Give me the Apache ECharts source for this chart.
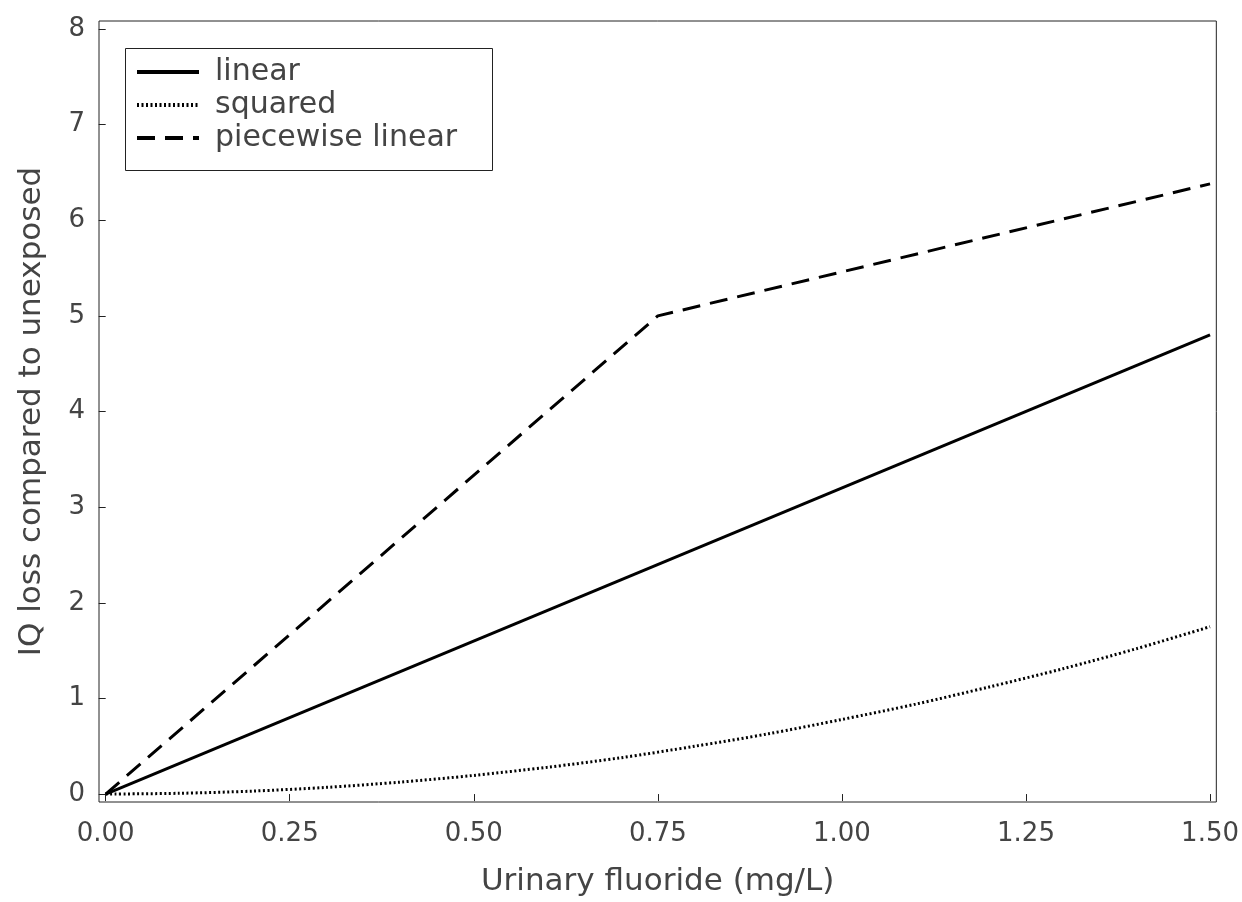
<!DOCTYPE html>
<html>
<head>
<meta charset="utf-8">
<script src="https://cdn.jsdelivr.net/npm/echarts@6/dist/echarts.min.js"></script>
<style>html,body{margin:0;padding:0;background:#fff;}#c{width:1242px;height:902px;}</style>
</head>
<body>
<div id="c"></div>
<script>
var xTicks = [0, 0.25, 0.5, 0.75, 1.0, 1.25, 1.5];
var yTicks = [0, 1, 2, 3, 4, 5, 6, 7, 8];
var seriesNames = ['linear', 'squared', 'piecewise linear'];
var xLinear = [0, 1.5];
var yLinear = [0, 4.8];
var xSquared = [0, 0.1, 0.2, 0.3, 0.4, 0.5, 0.6, 0.7, 0.8, 0.9, 1.0, 1.1, 1.2, 1.3, 1.4, 1.5];
var ySquared = [0, 0.008, 0.031, 0.07, 0.125, 0.195, 0.28, 0.38, 0.5, 0.63, 0.78, 0.94, 1.12, 1.31, 1.52, 1.75];
var xPiece = [0, 0.75, 1.5];
var yPiece = [0, 5.0, 6.38];

function pairs(xs, ys) { return xs.map(function (x, i) { return [x, ys[i]]; }); }

var FONT = '"DejaVu Sans", sans-serif';
var TXT = '#444';
var chart = echarts.init(document.getElementById('c'), null, {renderer: 'canvas'});
chart.setOption({
  backgroundColor: '#fff',
  animation: false,
  grid: {left: 99, right: 22, top: 21, bottom: 97, show: true, borderColor: '#222', borderWidth: 1, backgroundColor: 'transparent'},
  xAxis: {
    type: 'value', min: -0.00907, max: 1.5085,
    name: 'Urinary fluoride (mg/L)', nameLocation: 'middle', nameGap: 64,
    nameTextStyle: {fontFamily: FONT, fontSize: 31, color: TXT},
    axisLine: {show: false},
    splitLine: {show: false},
    axisTick: {show: true, length: 7, customValues: xTicks, lineStyle: {color: '#222', width: 1}},
    axisLabel: {customValues: xTicks, margin: 19, fontFamily: FONT, fontSize: 26, color: TXT,
      formatter: function (v) { return v.toFixed(2); }}
  },
  yAxis: {
    type: 'value', min: -0.083, max: 8.083,
    name: 'IQ loss compared to unexposed', nameLocation: 'middle', nameGap: 52,
    nameTextStyle: {fontFamily: FONT, fontSize: 31, color: TXT},
    axisLine: {show: false},
    splitLine: {show: false},
    axisTick: {show: true, length: 7, customValues: yTicks, lineStyle: {color: '#222', width: 1}},
    axisLabel: {customValues: yTicks, margin: 14, fontFamily: FONT, fontSize: 26, color: TXT}
  },
  legend: {
    orient: 'vertical', left: 123, top: 46,
    padding: [11, 12, 14, 12],
    itemWidth: 62, itemHeight: 14, itemGap: 3,
    itemStyle: {color: 'rgba(0,0,0,0)', borderWidth: 0, opacity: 0},
    lineStyle: {width: 4, color: '#000'},
    textStyle: {fontFamily: FONT, fontSize: 30, lineHeight: 30, color: TXT, padding: [0, 0, 0, 11]},
    data: seriesNames
  },
  graphic: [{
    type: 'rect', left: 123, top: 46, z: 100, silent: true,
    shape: {width: 367, height: 122},
    style: {fill: 'none', stroke: '#222', lineWidth: 1}
  }],
  series: [
    {name: seriesNames[0], type: 'line', data: pairs(xLinear, yLinear), symbol: 'none', showSymbol: false,
      lineStyle: {color: '#000', width: 3, type: 'solid'}, itemStyle: {color: '#000'}},
    {name: seriesNames[1], type: 'line', data: pairs(xSquared, ySquared), symbol: 'none', showSymbol: false, smooth: 0.3,
      lineStyle: {color: '#000', width: 3, type: [2, 2.5]}, itemStyle: {color: '#000'}},
    {name: seriesNames[2], type: 'line', data: pairs(xPiece, yPiece), symbol: 'none', showSymbol: false,
      lineStyle: {color: '#000', width: 3, type: [18, 10]}, itemStyle: {color: '#000'}}
  ]
});
</script>
</body>
</html>
